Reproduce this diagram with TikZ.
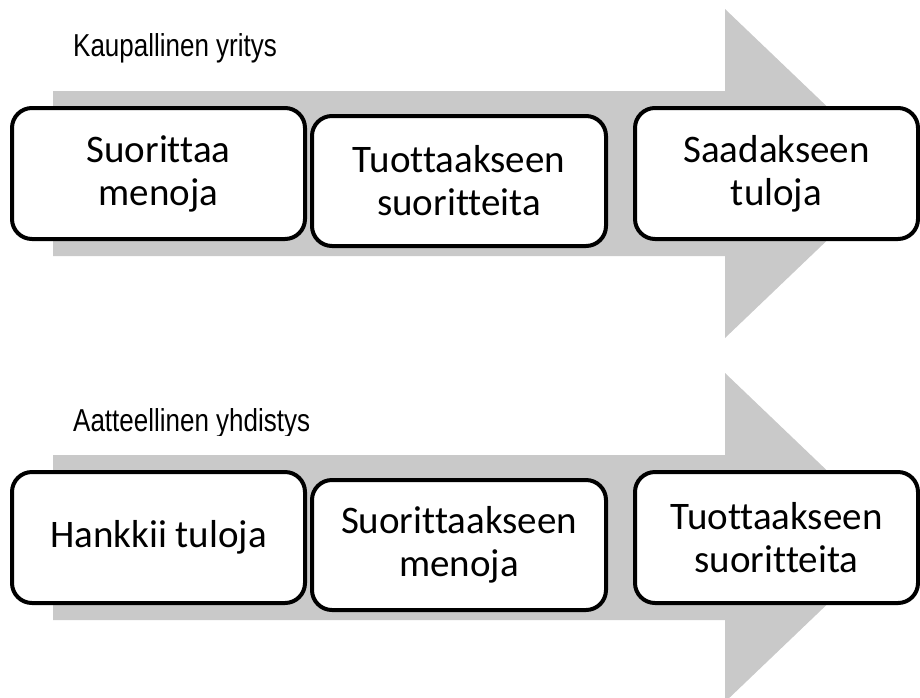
\documentclass[tikz,border=0pt]{standalone}
\usepackage{fontspec}
\setmainfont{Carlito}[Ligatures=NoCommon]
\newfontfamily\labelfont[FakeStretch=0.82]{Liberation Sans}
\definecolor{arrowgray}{HTML}{C9C9C9}
\tikzset{
  stepbox/.style={draw=black,line width=4pt,fill=white,rounded corners=20pt,
    minimum height=131pt,inner sep=0pt,align=center,
    font=\fontsize{39}{43}\selectfont},
  grouplabel/.style={anchor=base west,inner sep=0pt,
    font=\labelfont\fontsize{31.7}{34}\selectfont}
}
\begin{document}
\begin{tikzpicture}[x=1pt,y=-1pt]
\useasboundingbox (0,0) rectangle (920,697);

% the two gray arrows behind the boxes
\foreach \dy in {0,364}
\fill[arrowgray] (53,91+\dy) -- (725,91+\dy) -- (725,9+\dy) -- (897,173.5+\dy)
  -- (725,338+\dy) -- (725,256+\dy) -- (53,256+\dy) -- cycle;

% upper row
\node[grouplabel] (kauplabel) at (73,56) {Kaupallinen yritys};
\node[stepbox,minimum width=293pt] (kmenot) at (158.5,173.5) {Suorittaa\\menoja};
\node[stepbox,minimum width=294pt,minimum height=130pt] (ksuoritteet) at (459,181) {Tuottaakseen\\suoritteita};
\node[stepbox,minimum width=283pt] (ktulot) at (776.5,173.5) {Saadakseen\\tuloja};

% lower row
\begin{scope}
\clip (60,380) rectangle (340,435);
\node[grouplabel] (aatlabel) at (73,431) {Aatteellinen yhdistys};
\end{scope}
\node[stepbox,minimum width=293pt] (atulot) at (158.5,537.5) {Hankkii tuloja};
\node[stepbox,minimum width=294pt,minimum height=130pt] (amenot) at (459,545) {Suorittaakseen\\menoja};
\node[stepbox,minimum width=283pt] (asuoritteet) at (776.5,537.5) {Tuottaakseen\\suoritteita};

\end{tikzpicture}
\end{document}
